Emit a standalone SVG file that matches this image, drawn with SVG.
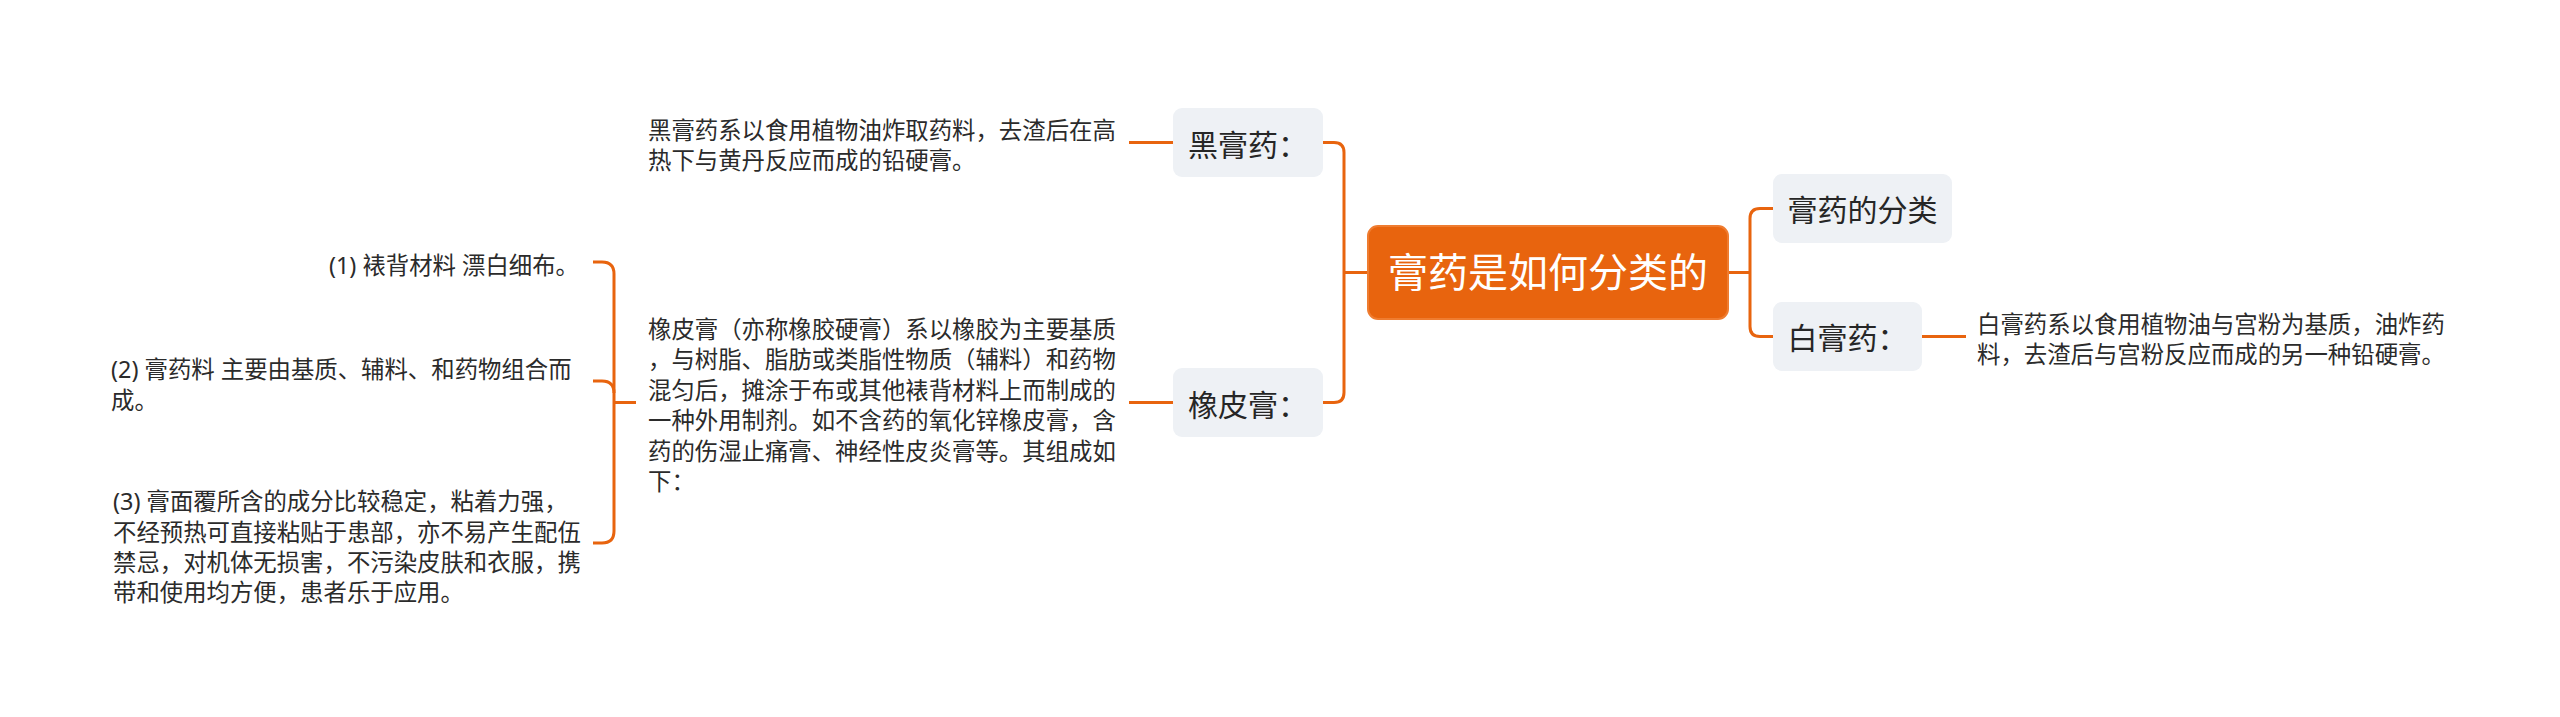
<svg xmlns="http://www.w3.org/2000/svg" width="2560" height="717" viewBox="0 0 2560 717">
<style>
.bg{fill:#ffffff}
.box{fill:#EEF1F5}
.root{fill:#E8640E;stroke:#EF7C30;stroke-width:2}
.lbl{font-family:'Noto Sans','Noto Sans CJK SC',sans-serif;font-size:30px;fill:#262626;text-anchor:middle}
.rt{font-family:'Noto Sans','Noto Sans CJK SC',sans-serif;font-size:40px;fill:#ffffff;text-anchor:middle}
.desc{font-family:'Noto Sans','Noto Sans CJK SC',sans-serif;font-size:23.4px;fill:#2b2b2b}
.conn path{fill:none;stroke:#E8640E;stroke-width:3;stroke-linecap:butt}
</style>
<rect class="bg" x="0" y="0" width="2560" height="717"/>
<g class="conn" id="connectors">
<path d="M1368,272.5 H1344"/>
<path d="M1323,142.5 H1334 Q1344,142.5 1344,152.5 V392.5 Q1344,402.5 1334,402.5 H1323"/>
<path d="M1728,272.5 H1750"/>
<path d="M1773,208.5 H1760 Q1750,208.5 1750,218.5 V326.5 Q1750,336.5 1760,336.5 H1773"/>
<path d="M1173,142.5 H1129"/>
<path d="M1173,402.5 H1129"/>
<path d="M1922,336.5 H1966"/>
<path d="M636,402.5 H614"/>
<path d="M593,262 H602 Q614,262 614,274 V531 Q614,543 602,543 H593"/>
<path d="M593,381 H602 Q614,381 614,393"/>
</g>
<g id="root">
<rect class="root" x="1368" y="226" width="360" height="93" rx="10"/>
<text class="rt" x="1548" y="287">膏药是如何分类的</text>
</g>
<g id="n-heigaoyao">
<rect class="box" x="1173" y="108" width="150" height="69" rx="9"/>
<text class="lbl" x="1248" y="155.5">黑膏药：</text>
</g>
<g id="n-xiangpigao">
<rect class="box" x="1173" y="368" width="150" height="69" rx="9"/>
<text class="lbl" x="1248" y="415.5">橡皮膏：</text>
</g>
<g id="n-fenlei">
<rect class="box" x="1773" y="174" width="179" height="69" rx="9"/>
<text class="lbl" x="1862.5" y="221">膏药的分类</text>
</g>
<g id="n-baigaoyao">
<rect class="box" x="1773" y="302" width="149" height="69" rx="9"/>
<text class="lbl" x="1847.5" y="349">白膏药：</text>
</g>
<g id="t-heigaoyao">
<text class="desc" x="648" y="138.5">黑膏药系以食用植物油炸取药料，去渣后在高</text>
<text class="desc" x="648" y="169">热下与黄丹反应而成的铅硬膏。</text>
</g>
<g id="t-baigaoyao">
<text class="desc" x="1977" y="332.5">白膏药系以食用植物油与宫粉为基质，油炸药</text>
<text class="desc" x="1977" y="363">料，去渣后与宫粉反应而成的另一种铅硬膏。</text>
</g>
<g id="t-xiangpigao">
<text class="desc" x="648" y="337.5">橡皮膏（亦称橡胶硬膏）系以橡胶为主要基质</text>
<text class="desc" x="648" y="368">，与树脂、脂肪或类脂性物质（辅料）和药物</text>
<text class="desc" x="648" y="398.5">混匀后，摊涂于布或其他裱背材料上而制成的</text>
<text class="desc" x="648" y="429">一种外用制剂。如不含药的氧化锌橡皮膏，含</text>
<text class="desc" x="648" y="459.5">药的伤湿止痛膏、神经性皮炎膏等。其组成如</text>
<text class="desc" x="648" y="490">下：</text>
</g>
<g id="t-1">
<text class="desc" x="579" y="274" text-anchor="end">(1) 裱背材料 漂白细布。</text>
</g>
<g id="t-2">
<text class="desc" x="111" y="377.5">(2) 膏药料 主要由基质、辅料、和药物组合而</text>
<text class="desc" x="111" y="408.5">成。</text>
</g>
<g id="t-3">
<text class="desc" x="113" y="510">(3) 膏面覆所含的成分比较稳定，粘着力强，</text>
<text class="desc" x="113" y="540.5">不经预热可直接粘贴于患部，亦不易产生配伍</text>
<text class="desc" x="113" y="570.5">禁忌，对机体无损害，不污染皮肤和衣服，携</text>
<text class="desc" x="113" y="600.5">带和使用均方便，患者乐于应用。</text>
</g>
</svg>
